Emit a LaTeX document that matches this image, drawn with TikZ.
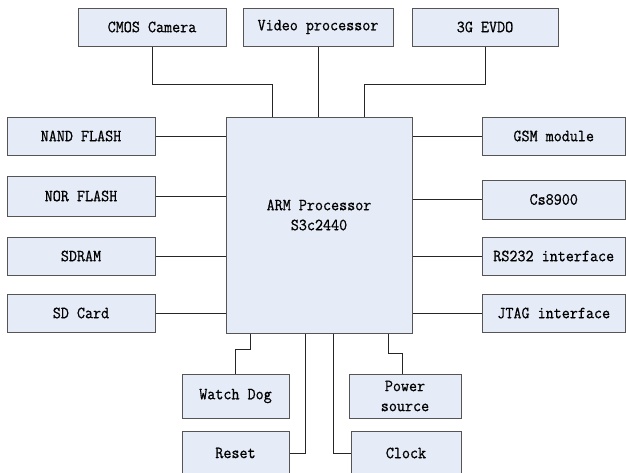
\documentclass[tikz,border=0pt]{standalone}
\usepackage{fontspec}
\newfontfamily\boxfont{Latin Modern Mono}[FakeStretch=0.92,FakeBold=0.8]
\usetikzlibrary{calc}
\definecolor{boxfill}{RGB}{230,236,247}
\definecolor{boxline}{RGB}{85,85,85}
\begin{document}
\begin{tikzpicture}[x=1pt,y=-1pt,
  box/.style={draw=boxline,fill=boxfill,line width=1pt,inner sep=0pt,
    font=\boxfont\fontsize{17}{20}\selectfont,align=center},
  link/.style={draw=black!85,line width=1pt}]
\useasboundingbox (0,0) rectangle (626,472);
% top
\node[box,minimum width=148,minimum height=38] (cmos) at (152,27) {CMOS Camera};
\node[box,minimum width=150,minimum height=38] (video) at (318,27) {Video processor};
\node[box,minimum width=146,minimum height=38] (evdo) at (485,27) {3G EVDO};
% center
\node[box,minimum width=186,minimum height=216] (arm) at (319,225) {};
\node[font=\boxfont\fontsize{17}{20}\selectfont,align=center] (armt) at (319,215) {ARM Processor\\S3c2440};
% left
\node[box,minimum width=148,minimum height=38] (nand) at (81,136) {NAND FLASH};
\node[box,minimum width=148,minimum height=40] (nor) at (81,196) {NOR FLASH};
\node[box,minimum width=148,minimum height=38] (sdram) at (81,256) {SDRAM};
\node[box,minimum width=148,minimum height=38] (sd) at (81,313) {SD Card};
% right
\node[box,minimum width=143.5,minimum height=38] (gsm) at (553.75,136) {GSM module};
\node[box,minimum width=143.5,minimum height=39] (cs) at (553.75,199.5) {Cs8900};
\node[box,minimum width=143.5,minimum height=38] (rs) at (553.75,256) {RS232 interface};
\node[box,minimum width=143.5,minimum height=38] (jtag) at (553.75,313) {JTAG interface};
% bottom
\node[box,minimum width=107,minimum height=44] (wd) at (235.5,396) {Watch Dog};
\node[box,minimum width=112,minimum height=44] (power) at (405,396) {Power\\source};
\node[box,minimum width=107,minimum height=44] (reset) at (235.5,453) {Reset};
\node[box,minimum width=110,minimum height=44] (clock) at (406,453) {Clock};
% connectors top
\coordinate (k1) at (272,84);
\coordinate (k2) at (364,84);
\draw[link] (cmos.south) |- (k1) -- (k1 |- arm.north);
\draw[link] (video.south) -- (video.south |- arm.north);
\draw[link] (evdo.south) |- (k2) -- (k2 |- arm.north);
% left
\draw[link] (nand.east) -- (nand.east -| arm.west);
\draw[link] (nor.east) -- (nor.east -| arm.west);
\draw[link] (sdram.east) -- (sdram.east -| arm.west);
\draw[link] (sd.east) -- (sd.east -| arm.west);
% right
\draw[link] (gsm.west) -- (gsm.west -| arm.east);
\draw[link] (cs.west) -- (cs.west -| arm.east);
\draw[link] (rs.west) -- (rs.west -| arm.east);
\draw[link] (jtag.west) -- (jtag.west -| arm.east);
% bottom
\coordinate (w1) at (250,349);
\coordinate (p1) at (388,353);
\coordinate (r1) at (305,451);
\coordinate (c1) at (333,451);
\draw[link] (w1 |- arm.south) -- (w1) -| (wd.north);
\draw[link] (p1 |- arm.south) -- (p1) -| ($(power.north)+(-3,0)$);
\draw[link] (r1 |- arm.south) |- (reset.east);
\draw[link] (c1 |- arm.south) |- (clock.west);
\end{tikzpicture}
\end{document}
